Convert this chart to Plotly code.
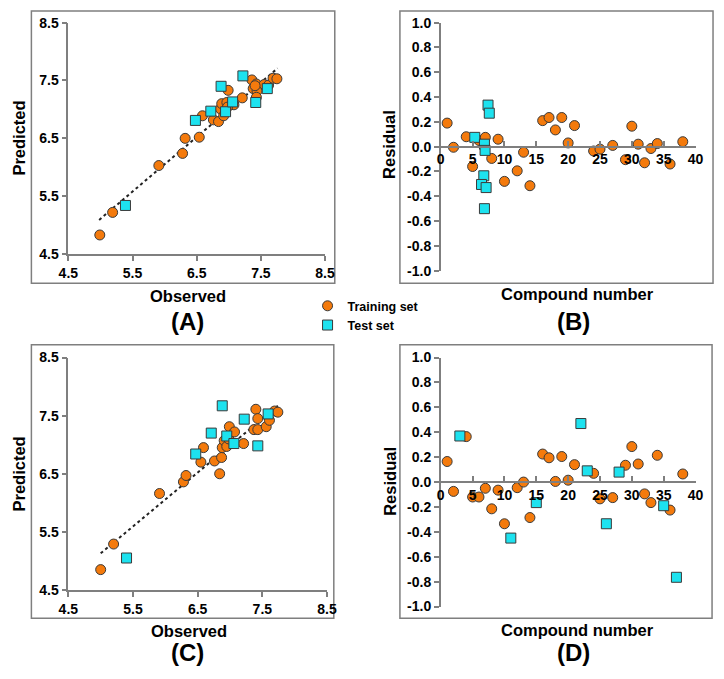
import plotly.graph_objects as go

# ---------------- data ----------------
# Panel A (model 1): observed vs predicted
a_train_obs = [4.99, 5.19, 5.91, 6.28, 6.32, 6.54, 6.59, 6.76, 6.84, 6.87, 6.89, 6.92, 6.97, 6.99, 7.08,
               7.21, 7.36, 7.38, 7.43, 7.44, 7.43, 7.55, 7.62, 7.69, 7.75, 6.98, 7.41]
a_train_pred = [4.83, 5.22, 6.03, 6.24, 6.50, 6.52, 6.89, 6.82, 6.79, 7.01, 7.10, 6.89, 7.12, 7.33, 7.08,
                7.20, 7.51, 7.36, 7.44, 7.32, 7.21, 7.43, 7.42, 7.54, 7.53, 7.04, 7.41]
a_test_obs = [5.39, 6.48, 6.72, 6.88, 6.95, 7.06, 7.22, 7.42, 7.60]
a_test_pred = [5.34, 6.81, 6.97, 7.40, 6.96, 7.13, 7.58, 7.12, 7.36]
a_trend_x = [4.98, 7.76]
a_trend_y = [5.09, 7.71]

# Panel B (model 1): residuals
b_train_num = [1, 2, 4, 5, 6, 7, 8, 9, 10, 12, 13, 14, 16, 17, 18, 19, 20, 21, 24, 25, 27, 29, 30, 31, 32, 33, 34, 36, 38]
b_train_res = [0.19, -0.005, 0.08, -0.16, 0.05, 0.075, -0.095, 0.06, -0.28, -0.195, -0.045, -0.315, 0.21, 0.235,
               0.135, 0.235, 0.03, 0.17, -0.035, -0.02, 0.01, -0.105, 0.165, 0.02, -0.13, -0.015, 0.025, -0.14, 0.04]
b_test_num = [5.34, 7.42, 7.62, 6.86, 6.96, 6.76, 6.40, 7.12, 6.86]
b_test_res = [0.075, 0.335, 0.27, 0.02, -0.03, -0.235, -0.305, -0.33, -0.5]

# Panel C (model 2): observed vs predicted
c_train_obs = [5.00, 5.20, 5.91, 6.28, 6.32, 6.55, 6.59, 6.76, 6.84, 6.87, 6.88, 6.91, 6.95, 6.98, 6.99,
               7.07, 7.21, 7.37, 7.40, 7.43, 7.43, 7.56, 7.61, 7.69, 7.74]
c_train_pred = [4.85, 5.29, 6.16, 6.36, 6.47, 6.70, 6.95, 6.72, 6.50, 6.78, 6.95, 7.07, 6.97, 7.10, 7.31,
                7.22, 7.02, 7.26, 7.61, 7.26, 7.45, 7.31, 7.42, 7.58, 7.56]
c_test_obs = [5.40, 6.47, 6.71, 6.88, 6.95, 7.06, 7.22, 7.43, 7.59]
c_test_pred = [5.05, 6.84, 7.20, 7.67, 7.15, 7.02, 7.44, 6.98, 7.53]
c_trend_x = [5.00, 7.74]
c_trend_y = [5.13, 7.67]

# Panel D (model 2): residuals
d_train_num = [1, 2, 4, 5, 6, 7, 8, 9, 10, 12, 13, 14, 16, 17, 18, 19, 20, 21, 24, 25, 27, 29, 30, 31, 32, 33, 34, 36, 38]
d_train_res = [0.165, -0.075, 0.365, -0.12, -0.12, -0.05, -0.215, -0.065, -0.335, -0.045, 0.0, -0.285, 0.225, 0.195,
               0.005, 0.205, 0.015, 0.14, 0.07, -0.135, -0.125, 0.135, 0.285, 0.145, -0.095, -0.165, 0.215, -0.225, 0.065]
d_test_num = [3, 11, 15, 22, 23, 26, 28, 35, 37]
d_test_res = [0.37, -0.45, -0.165, 0.47, 0.09, -0.335, 0.08, -0.19, -0.765]

obs_ticks = [4.5, 5.5, 6.5, 7.5, 8.5]
res_ticks = [-1.0, -0.8, -0.6, -0.4, -0.2, 0.0, 0.2, 0.4, 0.6, 0.8, 1.0]
num_ticks = [0, 5, 10, 15, 20, 25, 30, 35, 40]

# ---------------- style ----------------
W, H = 724, 679
FONT = "Liberation Sans"
ORANGE = "#F47A0C"
CYAN = "#1DE2EF"
EDGE = "#3A3A3A"
GRAY = "#7F7F7F"


def px(x):
    return x / W


def py(y):
    return 1 - y / H


def bold_labels(vals, fmt):
    return [f"<b>{v:{fmt}}</b>" for v in vals]


fig = go.Figure()

train_marker = dict(symbol="circle", size=10, color=ORANGE, line=dict(color=EDGE, width=1))
test_marker = dict(symbol="square", size=10, color=CYAN, line=dict(color=EDGE, width=1))

panels = [
    ("x", "y", a_train_obs, a_train_pred, a_test_obs, a_test_pred, (a_trend_x, a_trend_y), True),
    ("x2", "y2", b_train_num, b_train_res, b_test_num, b_test_res, None, False),
    ("x3", "y3", c_train_obs, c_train_pred, c_test_obs, c_test_pred, (c_trend_x, c_trend_y), False),
    ("x4", "y4", d_train_num, d_train_res, d_test_num, d_test_res, None, False),
]

for xa, ya, trx, try_, tex, tey, trend, legend in panels:
    if trend is not None:
        fig.add_trace(go.Scatter(x=trend[0], y=trend[1], mode="lines", xaxis=xa, yaxis=ya,
                                 line=dict(color="#222222", width=2, dash="dot"),
                                 showlegend=False, hoverinfo="skip"))
    fig.add_trace(go.Scatter(x=trx, y=try_, mode="markers", xaxis=xa, yaxis=ya,
                             marker=train_marker, name="<b>Training set</b>", showlegend=legend,
                             legendgroup="train"))
    fig.add_trace(go.Scatter(x=tex, y=tey, mode="markers", xaxis=xa, yaxis=ya,
                             marker=test_marker, name="<b>Test set</b>", showlegend=legend,
                             legendgroup="test"))

tickfont = dict(family=FONT, size=14, color="black")
common = dict(showgrid=False, zeroline=False, showline=True, linecolor=GRAY, linewidth=1.5,
              tickcolor=GRAY, tickwidth=1.5, ticklen=5, tickfont=tickfont)

obs_lbl = bold_labels(obs_ticks, ".1f")
res_lbl = bold_labels(res_ticks, ".1f")
num_lbl = bold_labels(num_ticks, "d")

# domains (pixel positions)
a_dom_x = [px(60), px(324)]
a_dom_y = [py(252), py(15)]
b_dom_x = [px(443), px(705)]
b_dom_y = [py(269), py(15)]
c_dom_x = [px(60), px(326)]
c_dom_y = [py(596), py(358)]
d_dom_x = [px(443), px(705)]
d_dom_y = [py(613), py(358)]

fig.update_layout(
    xaxis=dict(domain=a_dom_x, anchor="y", range=[4.5, 8.5], tickvals=obs_ticks,
               ticktext=obs_lbl, ticks="outside", **common),
    yaxis=dict(domain=a_dom_y, anchor="x", range=[4.5, 8.5], tickvals=obs_ticks,
               ticktext=obs_lbl, ticks="outside", **common),
    xaxis2=dict(domain=b_dom_x, anchor="free", position=(b_dom_y[0] + b_dom_y[1]) / 2,
                range=[0, 40], tickvals=num_ticks, ticktext=num_lbl, ticks="inside", **common),
    yaxis2=dict(domain=b_dom_y, anchor="x2", range=[-1.0, 1.0], tickvals=res_ticks,
                ticktext=res_lbl, ticks="outside", **common),
    xaxis3=dict(domain=c_dom_x, anchor="y3", range=[4.5, 8.5], tickvals=obs_ticks,
                ticktext=obs_lbl, ticks="outside", **common),
    yaxis3=dict(domain=c_dom_y, anchor="x3", range=[4.5, 8.5], tickvals=obs_ticks,
                ticktext=obs_lbl, ticks="outside", **common),
    xaxis4=dict(domain=d_dom_x, anchor="free", position=(d_dom_y[0] + d_dom_y[1]) / 2,
                range=[0, 40], tickvals=num_ticks, ticktext=num_lbl, ticks="inside", **common),
    yaxis4=dict(domain=d_dom_y, anchor="x4", range=[-1.0, 1.0], tickvals=res_ticks,
                ticktext=res_lbl, ticks="outside", **common),
)

# panel frames
frames = [(22, 3, 334, 282), (401, 3, 723, 282), (22, 345, 333, 625), (401, 345, 722, 625)]
for x0, y0, x1, y1 in frames:
    fig.add_shape(type="rect", xref="paper", yref="paper", x0=px(x0), x1=px(x1), y0=py(y1), y1=py(y0),
                  line=dict(color=GRAY, width=1.5), fillcolor="rgba(0,0,0,0)", layer="below")

# titles
TF = 16.5
texts = [
    ("Observed", 183, 295, TF, 0),
    ("(A)", 183, 321, 24, 0),
    ("Predicted", 9, 133, TF, -90),
    ("Compound number", 584, 293, TF, 0),
    ("(B)", 580, 321, 24, 0),
    ("Residual", 389, 140, TF, -90),
    ("Observed", 184, 638, TF, 0),
    ("(C)", 183, 660, 24, 0),
    ("Predicted", 9, 477, TF, -90),
    ("Compound number", 584, 637, TF, 0),
    ("(D)", 580, 660, 24, 0),
    ("Residual", 390, 485, TF, -90),
]
for t, x, y, s, ang in texts:
    fig.add_annotation(text=f"<b>{t}</b>", x=px(x), y=py(y), xref="paper", yref="paper",
                       xanchor="center", yanchor="middle", showarrow=False, textangle=ang,
                       font=dict(family=FONT, size=s, color="black"))

fig.update_layout(
    width=W, height=H, margin=dict(l=0, r=0, t=0, b=0),
    paper_bgcolor="white", plot_bgcolor="white",
    font=dict(family=FONT, color="black"),
    showlegend=True,
    legend=dict(x=px(306), y=py(290), xanchor="left", yanchor="top", bgcolor="rgba(0,0,0,0)",
                font=dict(family=FONT, size=12.5, color="black"), tracegroupgap=0,
                itemwidth=30, borderwidth=0),
)

fig.write_html("out.html", config={"displayModeBar": False},
               post_script="document.body.style.margin='0';document.body.style.overflow='hidden';")
